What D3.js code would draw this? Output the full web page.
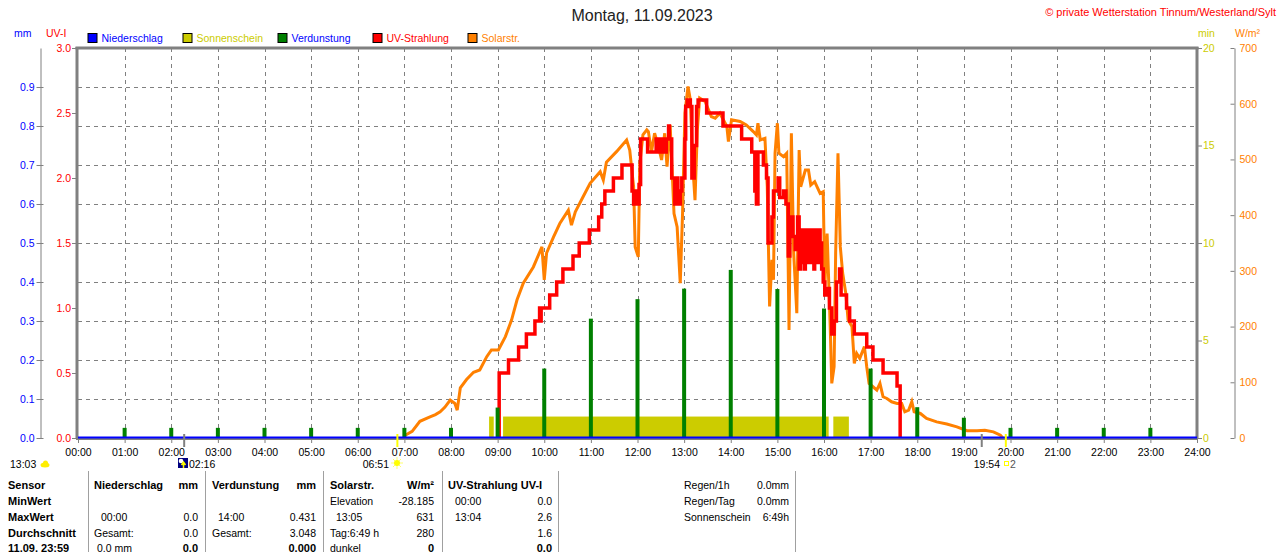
<!DOCTYPE html>
<html>
<head>
<meta charset="utf-8">
<script src="https://cdn.jsdelivr.net/npm/d3@7"></script>
<style>
body { margin: 0; background: #fff; }
svg { display: block; font-family: "Liberation Sans", Arial, sans-serif; }
</style>
</head>
<body>
<svg width="1280" height="552"></svg>
<script>
// chart values
var hourTicks = d3.range(0, 25);
var mmTicks = [0, 0.1, 0.2, 0.3, 0.4, 0.5, 0.6, 0.7, 0.8, 0.9];
var uvTicks = [0, 0.5, 1, 1.5, 2, 2.5, 3];
var minTicks = [0, 5, 10, 15, 20];
var wTicks = [0, 100, 200, 300, 400, 500, 600, 700];

var rainHours = [0, 6, 12, 18, 24];
var rainMm = [0, 0, 0, 0, 0];

var evapHours = [1, 2, 3, 4, 5, 6, 7, 8, 9, 10, 11, 12, 13, 14, 15, 16, 17, 18, 19, 20, 21, 22, 23];
var evapMm = [0.026, 0.026, 0.026, 0.026, 0.026, 0.026, 0.026, 0.026, 0.078, 0.178, 0.306, 0.356, 0.383, 0.431,
              0.382, 0.332, 0.178, 0.079, 0.052, 0.026, 0.026, 0.026, 0.026];

var sunFrom = ["08:49", "09:07", "16:12"];
var sunTo = ["08:55", "16:06", "16:32"];
var sunMin = [1.1, 1.1, 1.1];

var uvTimes = ["09:01", "09:02", "09:14", "09:27", "09:37", "09:48", "09:54", "09:55", "09:56", "10:07", "10:16", "10:24",
  "10:37", "10:45", "10:58", "11:10", "11:14", "11:18", "11:29", "11:40", "11:53", "11:55", "11:57", "12:00", "12:02",
  "12:04", "12:13", "12:24", "12:26", "12:28", "12:30", "12:33", "12:35", "12:37", "12:40", "12:41", "12:44", "12:48",
  "12:50", "12:52", "12:55", "12:57", "13:01", "13:02", "13:04", "13:08", "13:10", "13:13", "13:16", "13:18", "13:29",
  "13:50", "14:14", "14:27", "14:31", "14:33", "14:35", "14:42", "14:46", "14:48", "14:53", "14:55", "15:01", "15:03",
  "15:08", "15:11", "15:14", "15:16", "15:20", "15:23", "15:26", "15:28", "15:30", "15:31", "15:32", "15:33", "15:34",
  "15:35", "15:36", "15:37", "15:38", "15:39", "15:40", "15:41", "15:42", "15:43", "15:44", "15:45", "15:46", "15:47",
  "15:48", "15:49", "15:50", "15:51", "15:52", "15:53", "15:54", "15:55", "15:56", "15:57", "15:59", "16:01", "16:04",
  "16:07", "16:10", "16:13", "16:16", "16:20", "16:22", "16:29", "16:33", "16:39", "16:55", "17:03", "17:16", "17:34",
  "17:38"];
var uvIndex = [0, 0.5, 0.6, 0.7, 0.8, 0.9, 1.0, 0.9, 1.0, 1.1, 1.2, 1.3,
  1.4, 1.5, 1.6, 1.7, 1.8, 1.9, 2.0, 2.1, 1.9, 1.8, 1.9, 1.8, 1.95,
  2.3, 2.2, 2.3, 2.2, 2.3, 2.2, 2.3, 2.2, 2.3, 2.4, 2.3, 2.0, 1.8,
  2.0, 1.8, 1.9, 2.0, 2.3, 2.55, 2.6, 2.55, 2.0, 2.25, 2.55, 2.6, 2.5,
  2.4, 2.3, 2.2, 1.9, 1.8, 2.2, 2.1, 2.0, 1.5, 1.7, 1.9, 2.0, 1.85,
  1.9, 1.8, 1.4, 1.7, 1.55, 1.45, 1.7, 1.3, 1.6, 1.35, 1.6, 1.4, 1.55,
  1.3, 1.6, 1.35, 1.6, 1.4, 1.6, 1.35, 1.55, 1.4, 1.6, 1.35, 1.55, 1.3,
  1.6, 1.4, 1.6, 1.35, 1.55, 1.4, 1.6, 1.35, 1.5, 1.3, 1.2, 1.1, 1.15,
  1.0, 0.8, 0.9, 1.2, 1.3, 1.1, 1.0, 0.9, 0.8, 0.7, 0.6, 0.5, 0.4,
  0];

var solarTimes = ["07:00", "07:10", "07:20", "07:33", "07:40", "07:46", "07:52", "07:59", "08:05", "08:08", "08:12", "08:20",
  "08:29", "08:37", "08:46", "08:52", "09:01", "09:10", "09:18", "09:25", "09:33", "09:46", "09:57", "10:00", "10:03",
  "10:12", "10:20", "10:31", "10:35", "10:40", "10:50", "10:59", "11:12", "11:16", "11:20", "11:33", "11:46", "11:50",
  "11:55", "11:57", "12:01", "12:03", "12:07", "12:12", "12:14", "12:18", "12:22", "12:27", "12:31", "12:35", "12:38",
  "12:42", "12:47", "12:51", "12:55", "12:58", "13:01", "13:05", "13:08", "13:11", "13:14", "13:17", "13:20", "13:27",
  "13:35", "13:40", "13:46", "13:55", "13:57", "14:01", "14:12", "14:20", "14:29", "14:33", "14:35", "14:38", "14:44",
  "14:47", "14:50", "14:53", "14:55", "14:57", "15:00", "15:02", "15:08", "15:12", "15:15", "15:18", "15:21", "15:25",
  "15:28", "15:30", "15:36", "15:40", "15:43", "15:48", "15:55", "15:59", "16:01", "16:04", "16:08", "16:10", "16:13",
  "16:15", "16:18", "16:21", "16:24", "16:28", "16:31", "16:36", "16:39", "16:42", "16:46", "16:52", "16:55", "16:58",
  "17:03", "17:08", "17:12", "17:16", "17:21", "17:27", "17:34", "17:40", "17:44", "17:49", "17:53", "17:56", "18:04",
  "18:12", "18:25", "18:38", "18:51", "19:04", "19:17", "19:27", "19:38", "19:47", "19:50"];
var solarWm2 = [4, 12, 30, 38, 42, 47, 55, 68, 62, 50, 90, 105,
  118, 122, 146, 158, 158, 182, 212, 248, 278, 307, 343, 284, 332,
  361, 385, 409, 382, 406, 433, 457, 478, 463, 495, 514, 535, 517,
  451, 343, 325, 493, 544, 553, 550, 514, 547, 523, 499, 547, 487,
  562, 403, 379, 278, 404, 583, 631, 607, 493, 427, 553, 610, 604,
  577, 574, 583, 559, 532, 571, 568, 562, 550, 544, 565, 535, 538,
  451, 236, 320, 284, 511, 565, 511, 505, 511, 194, 547, 332, 224,
  517, 451, 481, 481, 454, 460, 439, 442, 272, 367, 200, 98, 128,
  332, 511, 343, 296, 260, 212, 200, 134, 152, 143, 164, 128, 98,
  92, 86, 98, 74, 71, 65, 62, 62, 47, 50, 65, 47, 44,
  35, 29, 25, 20, 13, 13, 14, 11, 5, 0];

var legendNames = ["Niederschlag", "Sonnenschein", "Verdunstung", "UV-Strahlung", "Solarstr."];
var legendFill = ["#0000ff", "#cccc00", "#008000", "#ff0000", "#ff8000"];
var legendText = ["#0000ff", "#cccc00", "#0000ff", "#ff0000", "#ff8000"];

// time helpers
function toH(s) { var p = s.split(":"); return +p[0] + (+p[1]) / 60; }
function pad(n) { return (n < 10 ? "0" : "") + n; }

var svg = d3.select("svg");
var plotLeft = 78, plotRight = 1197, plotTop = 48, plotBottom = 438;

var x = d3.scaleLinear().domain([0, 24]).range([plotLeft, plotRight]);
var yMm = d3.scaleLinear().domain([0, 1]).range([plotBottom, plotTop]);
var yUv = d3.scaleLinear().domain([0, 3]).range([plotBottom, plotTop]);
var yMin = d3.scaleLinear().domain([0, 20]).range([plotBottom, plotTop]);
var yW = d3.scaleLinear().domain([0, 700]).range([plotBottom, plotTop]);

var grey = "#808080";

// title + copyright
svg.append("text").attr("x", 642).attr("y", 21).attr("text-anchor", "middle")
    .attr("font-size", 16).attr("fill", "#222").text("Montag, 11.09.2023");
svg.append("text").attr("x", 1276).attr("y", 16).attr("text-anchor", "end")
    .attr("font-size", 11).attr("fill", "#ff0000").text("\u00a9 private Wetterstation Tinnum/Westerland/Sylt");

// axis unit labels
svg.append("text").attr("x", 14).attr("y", 37).attr("font-size", 10.5).attr("fill", "#0000ff").text("mm");
svg.append("text").attr("x", 46).attr("y", 37).attr("font-size", 10.5).attr("fill", "#ff0000").text("UV-I");
svg.append("text").attr("x", 1198).attr("y", 37).attr("font-size", 10.5).attr("fill", "#cccc00").text("min");
svg.append("text").attr("x", 1235).attr("y", 37).attr("font-size", 10.5).attr("fill", "#ff8000").text("W/m\u00b2");

// legend
var leg = svg.append("g").selectAll("g").data(legendNames).enter().append("g")
    .attr("transform", function (d, i) { return "translate(" + (87.5 + i * 95) + ",33)"; });
leg.append("rect").attr("x", 0.5).attr("y", 0.5).attr("width", 9).attr("height", 9)
    .attr("fill", function (d, i) { return legendFill[i]; }).attr("stroke", "#000");
leg.append("text").attr("x", 14).attr("y", 9).attr("font-size", 10.5)
    .attr("fill", function (d, i) { return legendText[i]; }).text(function (d) { return d; });

// grid
var grid = svg.append("g").attr("stroke", grey).attr("stroke-dasharray", "4,4").attr("stroke-width", 1);
grid.selectAll(".gh").data(mmTicks.slice(1)).enter().append("line")
    .attr("x1", plotLeft).attr("x2", plotRight)
    .attr("y1", function (d) { return Math.round(yMm(d)) + 0.5; })
    .attr("y2", function (d) { return Math.round(yMm(d)) + 0.5; });
grid.selectAll(".gv").data(hourTicks.slice(1, -1)).enter().append("line")
    .attr("y1", plotTop).attr("y2", plotBottom)
    .attr("x1", function (d) { return Math.round(x(d)) + 0.5; })
    .attr("x2", function (d) { return Math.round(x(d)) + 0.5; });

// sunshine
svg.append("g").selectAll("rect").data(sunFrom).enter().append("rect")
    .attr("x", function (d) { return x(toH(d)); })
    .attr("width", function (d, i) { return x(toH(sunTo[i])) - x(toH(d)); })
    .attr("y", function (d, i) { return yMin(sunMin[i]); })
    .attr("height", function (d, i) { return plotBottom - yMin(sunMin[i]); })
    .attr("fill", "#cccc00");

// solar radiation
var solar = solarTimes.map(function (t, i) { return [toH(t), solarWm2[i]]; });
svg.append("path").datum(solar)
    .attr("d", d3.line().x(function (d) { return x(d[0]); }).y(function (d) { return yW(d[1]); }))
    .attr("fill", "none").attr("stroke", "#ff8000").attr("stroke-width", 3);

// uv
var uv = uvTimes.map(function (t, i) { return [toH(t), uvIndex[i]]; });
svg.append("path").datum(uv)
    .attr("d", d3.line().curve(d3.curveStepAfter).x(function (d) { return x(d[0]); }).y(function (d) { return yUv(d[1]); }))
    .attr("fill", "none").attr("stroke", "#ff0000").attr("stroke-width", 3.5);

// evaporation
svg.append("g").selectAll("rect").data(evapHours).enter().append("rect")
    .attr("x", function (d) { return x(d) - 2; })
    .attr("width", 4)
    .attr("y", function (d, i) { return yMm(evapMm[i]); })
    .attr("height", function (d, i) { return plotBottom - yMm(evapMm[i]); })
    .attr("fill", "#008000");

// frame
var frame = svg.append("g").attr("stroke", grey);
frame.append("line").attr("x1", 75.5).attr("x2", 1198.5).attr("y1", 48).attr("y2", 48).attr("stroke-width", 3);
frame.append("line").attr("x1", 77).attr("x2", 77).attr("y1", 47).attr("y2", 439).attr("stroke-width", 3);
frame.append("line").attr("x1", 1197).attr("x2", 1197).attr("y1", 47).attr("y2", 439).attr("stroke-width", 3);
frame.append("line").attr("x1", 76).attr("x2", 1198).attr("y1", 439).attr("y2", 439).attr("stroke-width", 2);

// precipitation
var rain = rainHours.map(function (h, i) { return [h, rainMm[i]]; });
svg.append("path").datum(rain)
    .attr("d", d3.line().x(function (d) { return x(d[0]); }).y(function (d) { return yMm(d[1]) - 0.5; }))
    .attr("fill", "none").attr("stroke", "#0000ff").attr("stroke-width", 2);

// axes
function styleAxis(g, color) {
    g.attr("font-family", null).attr("font-size", null);
    g.selectAll("text").attr("fill", color).attr("font-size", 10.5);
    g.selectAll("line").attr("stroke", grey);
    g.select(".domain").attr("stroke", grey);
}

var mmAxis = svg.append("g").attr("transform", "translate(40.5,0)")
    .call(d3.axisLeft(yMm).tickValues(mmTicks).tickFormat(d3.format(".1f"))
        .tickSizeInner(-3).tickSizeOuter(0).tickPadding(6));
mmAxis.call(styleAxis, "#0000ff");
mmAxis.selectAll(".tick line").attr("x1", -4);

var uvAxis = svg.append("g").attr("transform", "translate(76,0)")
    .call(d3.axisLeft(yUv).tickValues(uvTicks).tickFormat(d3.format(".1f")).tickSize(4).tickPadding(1));
uvAxis.call(styleAxis, "#ff0000");
uvAxis.select(".domain").remove();

var minAxis = svg.append("g").attr("transform", "translate(1198,0)")
    .call(d3.axisRight(yMin).tickValues(minTicks).tickSize(4).tickPadding(1));
minAxis.call(styleAxis, "#cccc00");
minAxis.select(".domain").remove();

var wAxis = svg.append("g").attr("transform", "translate(1234.5,0)")
    .call(d3.axisRight(yW).tickValues(wTicks).tickSizeInner(-4).tickSizeOuter(0).tickPadding(5));
wAxis.call(styleAxis, "#ff8000");

var xAxis = svg.append("g").attr("transform", "translate(0,439)")
    .call(d3.axisBottom(x).tickValues(hourTicks).tickFormat(function (d) { return pad(d) + ":00"; })
        .tickSize(4).tickPadding(6));
xAxis.call(styleAxis, "#000");
xAxis.select(".domain").remove();

// sun / moon events under the axis
var ev = svg.append("g");
ev.append("line").attr("x1", x(toH("02:16")) + 0.5).attr("x2", x(toH("02:16")) + 0.5).attr("y1", 434).attr("y2", 447)
    .attr("stroke", grey).attr("stroke-width", 2);
ev.append("line").attr("x1", x(toH("06:51"))).attr("x2", x(toH("06:51"))).attr("y1", 434).attr("y2", 447)
    .attr("stroke", "#ffff00").attr("stroke-width", 2);
ev.append("line").attr("x1", x(toH("19:23"))).attr("x2", x(toH("19:23"))).attr("y1", 434).attr("y2", 447)
    .attr("stroke", grey).attr("stroke-width", 2);
ev.append("line").attr("x1", x(toH("19:54"))).attr("x2", x(toH("19:54"))).attr("y1", 434).attr("y2", 447)
    .attr("stroke", "#ffff00").attr("stroke-width", 2);

ev.append("text").attr("x", 10).attr("y", 468).attr("font-size", 10.5).text("13:03");
ev.append("ellipse").attr("cx", 45).attr("cy", 465).attr("rx", 4.5).attr("ry", 2.5).attr("fill", "#ffee00");
ev.append("circle").attr("cx", 45.5).attr("cy", 463).attr("r", 2.5).attr("fill", "#ffee00");

ev.append("rect").attr("x", 178).attr("y", 458).attr("width", 10).attr("height", 10).attr("fill", "#000080");
ev.append("circle").attr("cx", 181).attr("cy", 461).attr("r", 2.3).attr("fill", "#fff");
ev.append("path").attr("d", "M183.5,468V463M181.5,465L183.5,462L185.5,465").attr("stroke", "#ffff00")
    .attr("stroke-width", 1.5).attr("fill", "none");
ev.append("text").attr("x", 189).attr("y", 468).attr("font-size", 10.5).text("02:16");

ev.append("text").attr("x", 389).attr("y", 468).attr("text-anchor", "end").attr("font-size", 10.5).text("06:51");
ev.append("circle").attr("cx", 397).attr("cy", 463).attr("r", 3).attr("fill", "#ffff00");
ev.append("path").attr("d", "M397,457V469M391,463H403M393,459L401,467M401,459L393,467")
    .attr("stroke", "#ffff00").attr("stroke-width", 0.8).attr("opacity", 0.7);

ev.append("text").attr("x", 1000).attr("y", 468).attr("text-anchor", "end").attr("font-size", 10.5).text("19:54");
ev.append("rect").attr("x", 1004.5).attr("y", 461.5).attr("width", 4).attr("height", 4)
    .attr("fill", "none").attr("stroke", "#ffff00");
ev.append("text").attr("x", 1010).attr("y", 468).attr("font-size", 10.5).attr("fill", "#555").text("2");

// bottom table
var rowY = [489, 505, 521, 536.5, 552];
var seps = [88, 205, 323, 442, 558, 795];
svg.append("g").selectAll("line").data(seps).enter().append("line")
    .attr("x1", function (d) { return d + 0.5; }).attr("x2", function (d) { return d + 0.5; })
    .attr("y1", 471).attr("y2", 552).attr("stroke", "#a0a0a0");

var cells = [
    [8, 0, "Sensor", "start", 1], [8, 1, "MinWert", "start", 1], [8, 2, "MaxWert", "start", 1],
    [8, 3, "Durchschnitt", "start", 1], [8, 4, "11.09. 23:59", "start", 1],
    [94, 0, "Niederschlag", "start", 1], [198, 0, "mm", "end", 1],
    [101, 2, "00:00", "start", 0], [198, 2, "0.0", "end", 0],
    [94, 3, "Gesamt:", "start", 0], [198, 3, "0.0", "end", 0],
    [97, 4, "0.0 mm", "start", 0], [198, 4, "0.0", "end", 1],
    [212, 0, "Verdunstung", "start", 1], [316, 0, "mm", "end", 1],
    [218, 2, "14:00", "start", 0], [316, 2, "0.431", "end", 0],
    [212, 3, "Gesamt:", "start", 0], [316, 3, "3.048", "end", 0],
    [316, 4, "0.000", "end", 1],
    [330, 0, "Solarstr.", "start", 1], [434, 0, "W/m\u00b2", "end", 1],
    [330, 1, "Elevation", "start", 0], [434, 1, "-28.185", "end", 0],
    [336, 2, "13:05", "start", 0], [434, 2, "631", "end", 0],
    [330, 3, "Tag:6:49 h", "start", 0], [434, 3, "280", "end", 0],
    [330, 4, "dunkel", "start", 0], [434, 4, "0", "end", 1],
    [448, 0, "UV-Strahlung UV-I", "start", 1],
    [455, 1, "00:00", "start", 0], [552, 1, "0.0", "end", 0],
    [455, 2, "13:04", "start", 0], [552, 2, "2.6", "end", 0],
    [552, 3, "1.6", "end", 0], [552, 4, "0.0", "end", 1],
    [684, 0, "Regen/1h", "start", 0], [789, 0, "0.0mm", "end", 0],
    [684, 1, "Regen/Tag", "start", 0], [789, 1, "0.0mm", "end", 0],
    [684, 2, "Sonnenschein", "start", 0], [789, 2, "6:49h", "end", 0]
];
svg.append("g").selectAll("text").data(cells).enter().append("text")
    .attr("x", function (d) { return d[0]; })
    .attr("y", function (d) { return rowY[d[1]]; })
    .attr("text-anchor", function (d) { return d[3]; })
    .attr("font-weight", function (d) { return d[4] ? "bold" : "normal"; })
    .attr("font-size", function (d) { return d[4] ? 11 : 10.5; })
    .attr("fill", "#000")
    .text(function (d) { return d[2]; });
</script>
</body>
</html>
